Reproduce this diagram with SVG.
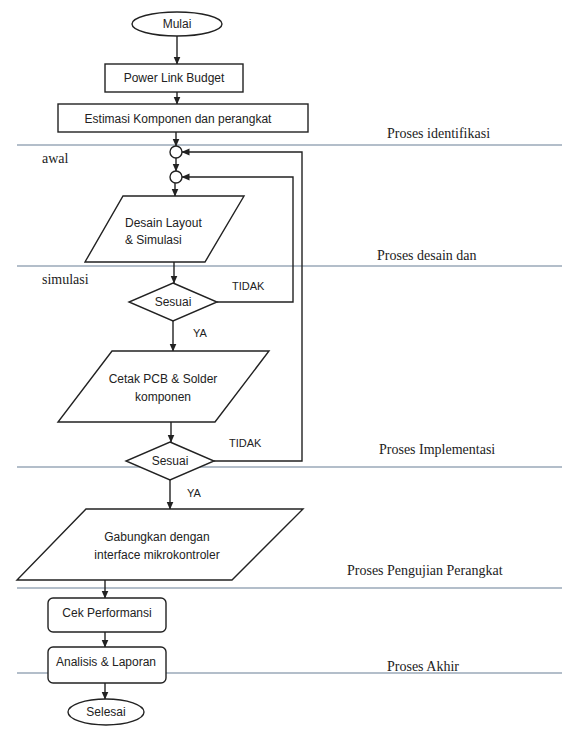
<svg xmlns="http://www.w3.org/2000/svg" width="562" height="729" viewBox="0 0 562 729">
<style>
.bg{fill:#ffffff}
.lane{stroke:#9aa9b9;stroke-width:1.3;fill:none}
.shape{fill:#ffffff;stroke:#222222;stroke-width:1.4}
.conn{fill:none;stroke:#222222;stroke-width:1.4}
.t{font-family:"Liberation Sans",Arial,sans-serif;font-size:12px;fill:#222222}
.lbl{font-family:"Liberation Sans",Arial,sans-serif;font-size:11px;fill:#222222}
.side{font-family:"Liberation Serif","Times New Roman",serif;font-size:14px;fill:#222222}
</style>
<defs>
<marker id="arr" markerWidth="8" markerHeight="8" refX="7.5" refY="4" orient="auto" markerUnits="userSpaceOnUse">
<path d="M0,0.5 L8,4 L0,7.5 z" fill="#222222"/>
</marker>
</defs>
<rect class="bg" x="0" y="0" width="562" height="729"/>
<g id="lanes">
<line class="lane" x1="17" y1="145" x2="562" y2="145"/>
<line class="lane" x1="17" y1="266" x2="562" y2="266"/>
<line class="lane" x1="17" y1="467" x2="562" y2="467"/>
<line class="lane" x1="17" y1="588" x2="562" y2="588"/>
<line class="lane" x1="17" y1="673" x2="562" y2="673"/>
</g>
<g id="lane-labels">
<text class="side" x="42" y="163">awal</text>
<text class="side" x="42" y="284">simulasi</text>
<text class="side" x="387" y="138">Proses identifikasi</text>
<text class="side" x="377" y="260">Proses desain dan</text>
<text class="side" x="379" y="454">Proses Implementasi</text>
<text class="side" x="347" y="575">Proses Pengujian Perangkat</text>
<text class="side" x="387" y="671">Proses Akhir</text>
</g>
<g id="connectors">
<line class="conn" x1="177" y1="36" x2="177" y2="64" marker-end="url(#arr)"/>
<line class="conn" x1="177" y1="92" x2="177" y2="104" marker-end="url(#arr)"/>
<line class="conn" x1="176" y1="132" x2="176" y2="146" marker-end="url(#arr)"/>
<line class="conn" x1="176" y1="158" x2="176" y2="171" marker-end="url(#arr)"/>
<line class="conn" x1="175" y1="183" x2="175" y2="196" marker-end="url(#arr)"/>
<line class="conn" x1="174" y1="262" x2="174" y2="283" marker-end="url(#arr)"/>
<line class="conn" x1="173" y1="321" x2="173" y2="351" marker-end="url(#arr)"/>
<polyline class="conn" points="217,302 293,302 293,177 182,177" marker-end="url(#arr)"/>
<line class="conn" x1="171" y1="422" x2="171" y2="442" marker-end="url(#arr)"/>
<polyline class="conn" points="214,461 302,461 302,152 182,152" marker-end="url(#arr)"/>
<line class="conn" x1="170" y1="480" x2="170" y2="509" marker-end="url(#arr)"/>
<line class="conn" x1="105" y1="580" x2="105" y2="598" marker-end="url(#arr)"/>
<line class="conn" x1="105" y1="632" x2="105" y2="647" marker-end="url(#arr)"/>
<line class="conn" x1="105" y1="683" x2="105" y2="699" marker-end="url(#arr)"/>
<text class="lbl" x="232" y="290">TIDAK</text>
<text class="lbl" x="193" y="337">YA</text>
<text class="lbl" x="229" y="447">TIDAK</text>
<text class="lbl" x="187" y="497">YA</text>
</g>
<g id="mulai">
<ellipse class="shape" cx="177" cy="24" rx="45" ry="12"/>
<text class="t" x="177" y="28" text-anchor="middle">Mulai</text>
</g>
<g id="power-link-budget">
<rect class="shape" x="105" y="64" width="138" height="28"/>
<text class="t" x="174" y="82" text-anchor="middle" font-size="11">Power Link Budget</text>
</g>
<g id="estimasi">
<rect class="shape" x="58" y="104" width="250" height="28"/>
<text class="t" x="178" y="123" text-anchor="middle">Estimasi Komponen dan perangkat</text>
</g>
<g id="junction-1">
<circle class="shape" cx="176" cy="152" r="6"/>
</g>
<g id="junction-2">
<circle class="shape" cx="176" cy="177" r="6"/>
</g>
<g id="desain">
<polygon class="shape" points="123,196 244,196 205,262 85,262"/>
<text class="t" x="125" y="227">Desain Layout</text>
<text class="t" x="125" y="244">&amp; Simulasi</text>
</g>
<g id="sesuai-1">
<polygon class="shape" points="173,283 217,302 173,321 129,302"/>
<text class="t" x="173" y="306" text-anchor="middle" font-size="11">Sesuai</text>
</g>
<g id="cetak">
<polygon class="shape" points="112,351 269,351 215,422 58,422"/>
<text class="t" x="163" y="383" text-anchor="middle">Cetak PCB &amp; Solder</text>
<text class="t" x="163" y="401" text-anchor="middle">komponen</text>
</g>
<g id="sesuai-2">
<polygon class="shape" points="170,442 214,461 170,480 126,461"/>
<text class="t" x="170" y="465" text-anchor="middle" font-size="11">Sesuai</text>
</g>
<g id="gabungkan">
<polygon class="shape" points="86,509 303,509 232,580 17,580"/>
<text class="t" x="157" y="541" text-anchor="middle">Gabungkan dengan</text>
<text class="t" x="157" y="559" text-anchor="middle">interface mikrokontroler</text>
</g>
<g id="cek-performansi">
<rect class="shape" x="48" y="598" width="118" height="34" rx="5"/>
<text class="t" x="107" y="617" text-anchor="middle">Cek Performansi</text>
</g>
<g id="analisis">
<rect class="shape" x="48" y="647" width="118" height="36" rx="5"/>
<text class="t" x="106" y="666" text-anchor="middle">Analisis &amp; Laporan</text>
</g>
<g id="selesai">
<ellipse class="shape" cx="106" cy="712" rx="38" ry="13"/>
<text class="t" x="106" y="716" text-anchor="middle" font-size="11.5">Selesai</text>
</g>
</svg>
